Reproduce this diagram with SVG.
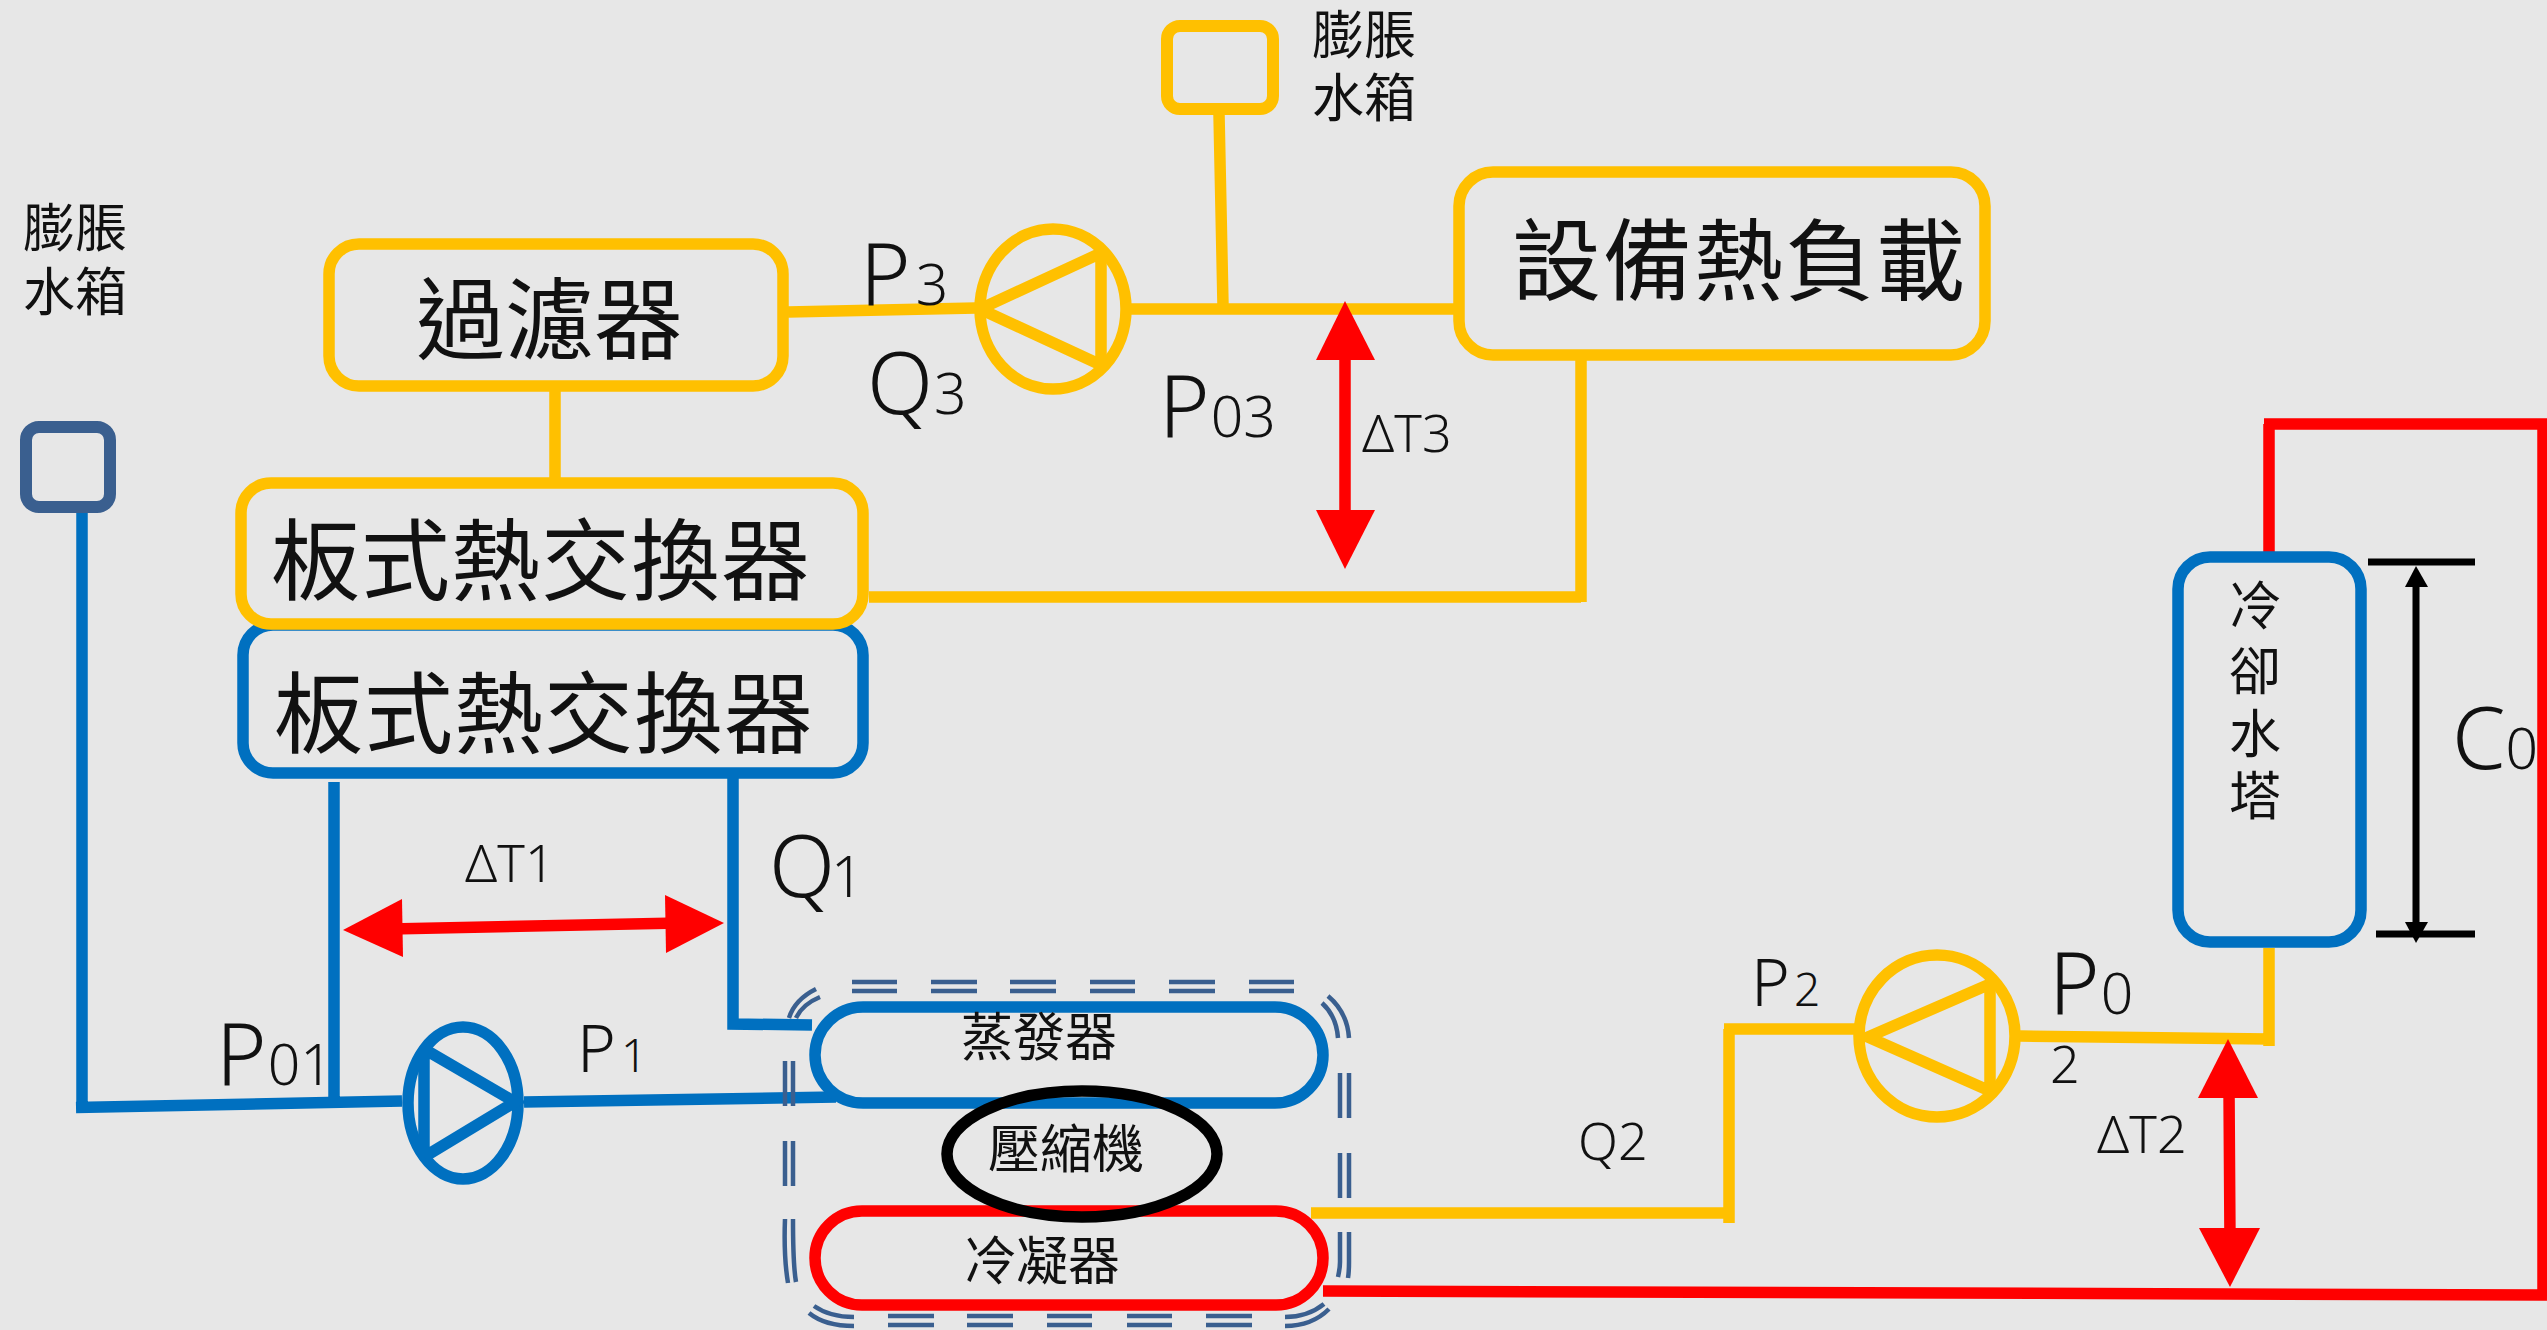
<svg xmlns="http://www.w3.org/2000/svg" width="2547" height="1330" viewBox="0 0 2547 1330">
<style>
.bg{fill:#e7e7e7}
.y{fill:none;stroke:#ffc000;stroke-width:11.500}
.b{fill:none;stroke:#0070c0;stroke-width:11.500}
.r{fill:none;stroke:#ff0000;stroke-width:11.500}
.k{fill:none;stroke:#000;stroke-width:7}
.h{fill:#ff0000}
.kh{fill:#000}
.d{fill:none;stroke:#3a5f8f;stroke-width:4.500}
text{font-family:"Noto Sans CJK TC","Noto Sans",sans-serif;fill:#111;font-weight:400}
.s50{font-size:52px}
.s88{font-size:89px}
.l{font-family:"Noto Sans","Liberation Sans",sans-serif;font-size:86px;font-weight:300}
.m{font-family:"Noto Sans","Liberation Sans",sans-serif;font-size:52px;font-weight:300}
.l tspan{font-size:57px}
.m2{font-family:"Noto Sans","Liberation Sans",sans-serif;font-size:66px;font-weight:300}
.m2 tspan{font-size:46px}
</style>
<rect class="bg" width="2547" height="1330"/>
<g id="connectors">
<path class="y" d="M788 312L976 308M555 391V478M869 597H1581M1581 360V602M1131 309H1454M1219 114L1223 305"/>
<path class="b" d="M82 512V1112M76 1107.500L402 1101M334 782V1101M733 778V1024L812 1025M524 1102L836 1097"/>
<path class="y" d="M1311 1213H1734M1729 1223V1029M1724 1029H1860M2020 1036L2269 1039M2269 948V1046"/>
<path class="r" d="M2269 553V424M2264 424H2547M2543 424V1295M1323 1291L2547 1295"/>
<path class="k" d="M2368 562H2475M2376 934H2475M2416 580V930"/>
<polygon class="kh" points="2416,566 2428,587 2405,587"/>
<polygon class="kh" points="2416,943 2428,922 2405,922"/>
<path class="r" d="M1345 350V520M390 929L680 923M2229 1090L2230 1240"/>
<polygon class="h" points="1345,301 1375,360 1316,360"/>
<polygon class="h" points="1345,569 1375,510 1316,510"/>
<polygon class="h" points="343,930 402,899 403,957"/>
<polygon class="h" points="724,923 665,895 666,953"/>
<polygon class="h" points="2228,1039 2258,1098 2198,1098"/>
<polygon class="h" points="2230,1287 2260,1228 2199,1228"/>
</g>
<g id="tank-left">
<rect x="26" y="427" width="84" height="80" rx="13" fill="none" stroke="#3a5f8f" stroke-width="12"/>
<text class="s50" x="23" y="247">膨脹<tspan x="23" dy="64">水箱</tspan></text>
</g>
<g id="tank-top">
<rect class="y" x="1167" y="26" width="106" height="83" rx="13" style="stroke-width:12"/>
<text class="s50" x="1312" y="54">膨脹<tspan x="1312" dy="63">水箱</tspan></text>
</g>
<g id="filter">
<rect class="y" x="329" y="244" width="454" height="142" rx="30"/>
<text class="s88" x="416" y="352">過濾器</text>
</g>
<g id="load">
<rect class="y" x="1459" y="172" width="526" height="183" rx="34"/>
<text class="s88" x="1512" y="293" style="letter-spacing:2px">設備熱負載</text>
</g>
<g id="hx-blue">
<rect class="b" x="243" y="625" width="620" height="148" rx="30"/>
<text class="s88" x="274" y="746" style="letter-spacing:1px">板式熱交換器</text>
</g>
<g id="hx-yellow">
<rect class="y" x="241" y="483" width="622" height="141" rx="30"/>
<text class="s88" x="271" y="593" style="letter-spacing:1px">板式熱交換器</text>
</g>
<g id="pump-3">
<ellipse class="y" cx="1053" cy="309" rx="73" ry="80"/>
<path class="y" d="M1101 253V365M1101 253L980 309L1101 365"/>
</g>
<g id="pump-1">
<ellipse class="b" cx="463" cy="1103" rx="55" ry="76"/>
<path class="b" d="M424 1049V1157M424 1049L515 1102L424 1157"/>
</g>
<g id="pump-2">
<ellipse class="y" cx="1937" cy="1036" rx="78" ry="81"/>
<path class="y" d="M1990 984V1091M1990 984L1868 1037L1990 1091"/>
</g>
<g id="tower">
<rect class="b" x="2178" y="557" width="183" height="385" rx="32"/>
<text class="s50" x="2229" y="625">冷<tspan x="2229" dy="65">卻</tspan><tspan x="2229" dy="63">水</tspan><tspan x="2229" dy="62">塔</tspan></text>
</g>
<g id="chiller-boundary">
<path class="d" d="M852 982H897M931 982H977M1010 982H1056M1090 982H1135M1169 982H1215M1249 982H1294M852 991H897M931 991H977M1010 991H1056M1090 991H1135M1169 991H1215M1249 991H1294
M888 1316H934M967 1316H1013M1047 1316H1092M1127 1316H1172M1206 1316H1252M888 1325H934M967 1325H1013M1047 1325H1092M1127 1325H1172M1206 1325H1252
M785 1061V1106M793 1061V1106M785 1141V1186M793 1141V1186M785 1219C784 1245 785 1265 788 1283M793 1219C793 1245 793 1265 796 1282
M1340 1073V1118M1349 1073V1118M1340 1153V1198M1349 1153V1198M1340 1232V1262C1340 1268 1339 1272 1338 1277M1349 1232V1262C1349 1268 1349 1272 1348 1278
M789 1018C793 1005 802 996 816 989M796 1018C800 1009 808 1002 820 997M1328 996C1341 1007 1348 1022 1349 1038M1322 1003C1332 1012 1337 1024 1338 1038
M809 1313C820 1322 835 1326 854 1326M814 1306C824 1313 838 1317 854 1317M1285 1326C1303 1326 1318 1320 1329 1309M1285 1317C1300 1317 1314 1312 1324 1304"/>
</g>
<g id="evaporator">
<rect class="b" x="815" y="1007" width="508" height="96" rx="48"/>
<text class="s50" x="961" y="1056">蒸發器</text>
</g>
<g id="condenser">
<rect class="r" x="815" y="1211" width="508" height="94" rx="47"/>
<text class="s50" x="964" y="1280">冷凝器</text>
</g>
<g id="compressor">
<ellipse cx="1082" cy="1154" rx="135" ry="63" fill="none" stroke="#000" stroke-width="11.500"/>
<text class="s50" x="988" y="1168">壓縮機</text>
</g>
<g id="labels">
<text class="l" x="860" y="305">P<tspan dx="5">3</tspan></text>
<text class="l" x="867" y="414">Q<tspan dx="1">3</tspan></text>
<text class="l" x="1159" y="437">P<tspan dx="1">03</tspan></text>
<text class="m" x="1362" y="452">ΔT3</text>
<text class="m" x="465" y="882">ΔT1</text>
<text class="l" x="769" y="897">Q<tspan dx="-4">1</tspan></text>
<text class="l" x="216" y="1085">P<tspan dx="1">01</tspan></text>
<text class="m2" x="577" y="1072">P<tspan dx="5">1</tspan></text>
<text class="m" x="1578" y="1160">Q2</text>
<text class="m2" x="1751" y="1006">P<tspan dx="4">2</tspan></text>
<text class="l" x="2049" y="1014">P<tspan dx="1">0</tspan></text>
<text class="m" x="2050" y="1083">2</text>
<text class="m" x="2097" y="1153">ΔT2</text>
<text class="l" x="2452" y="769">C<tspan dx="0">0</tspan></text>
</g>
</svg>
